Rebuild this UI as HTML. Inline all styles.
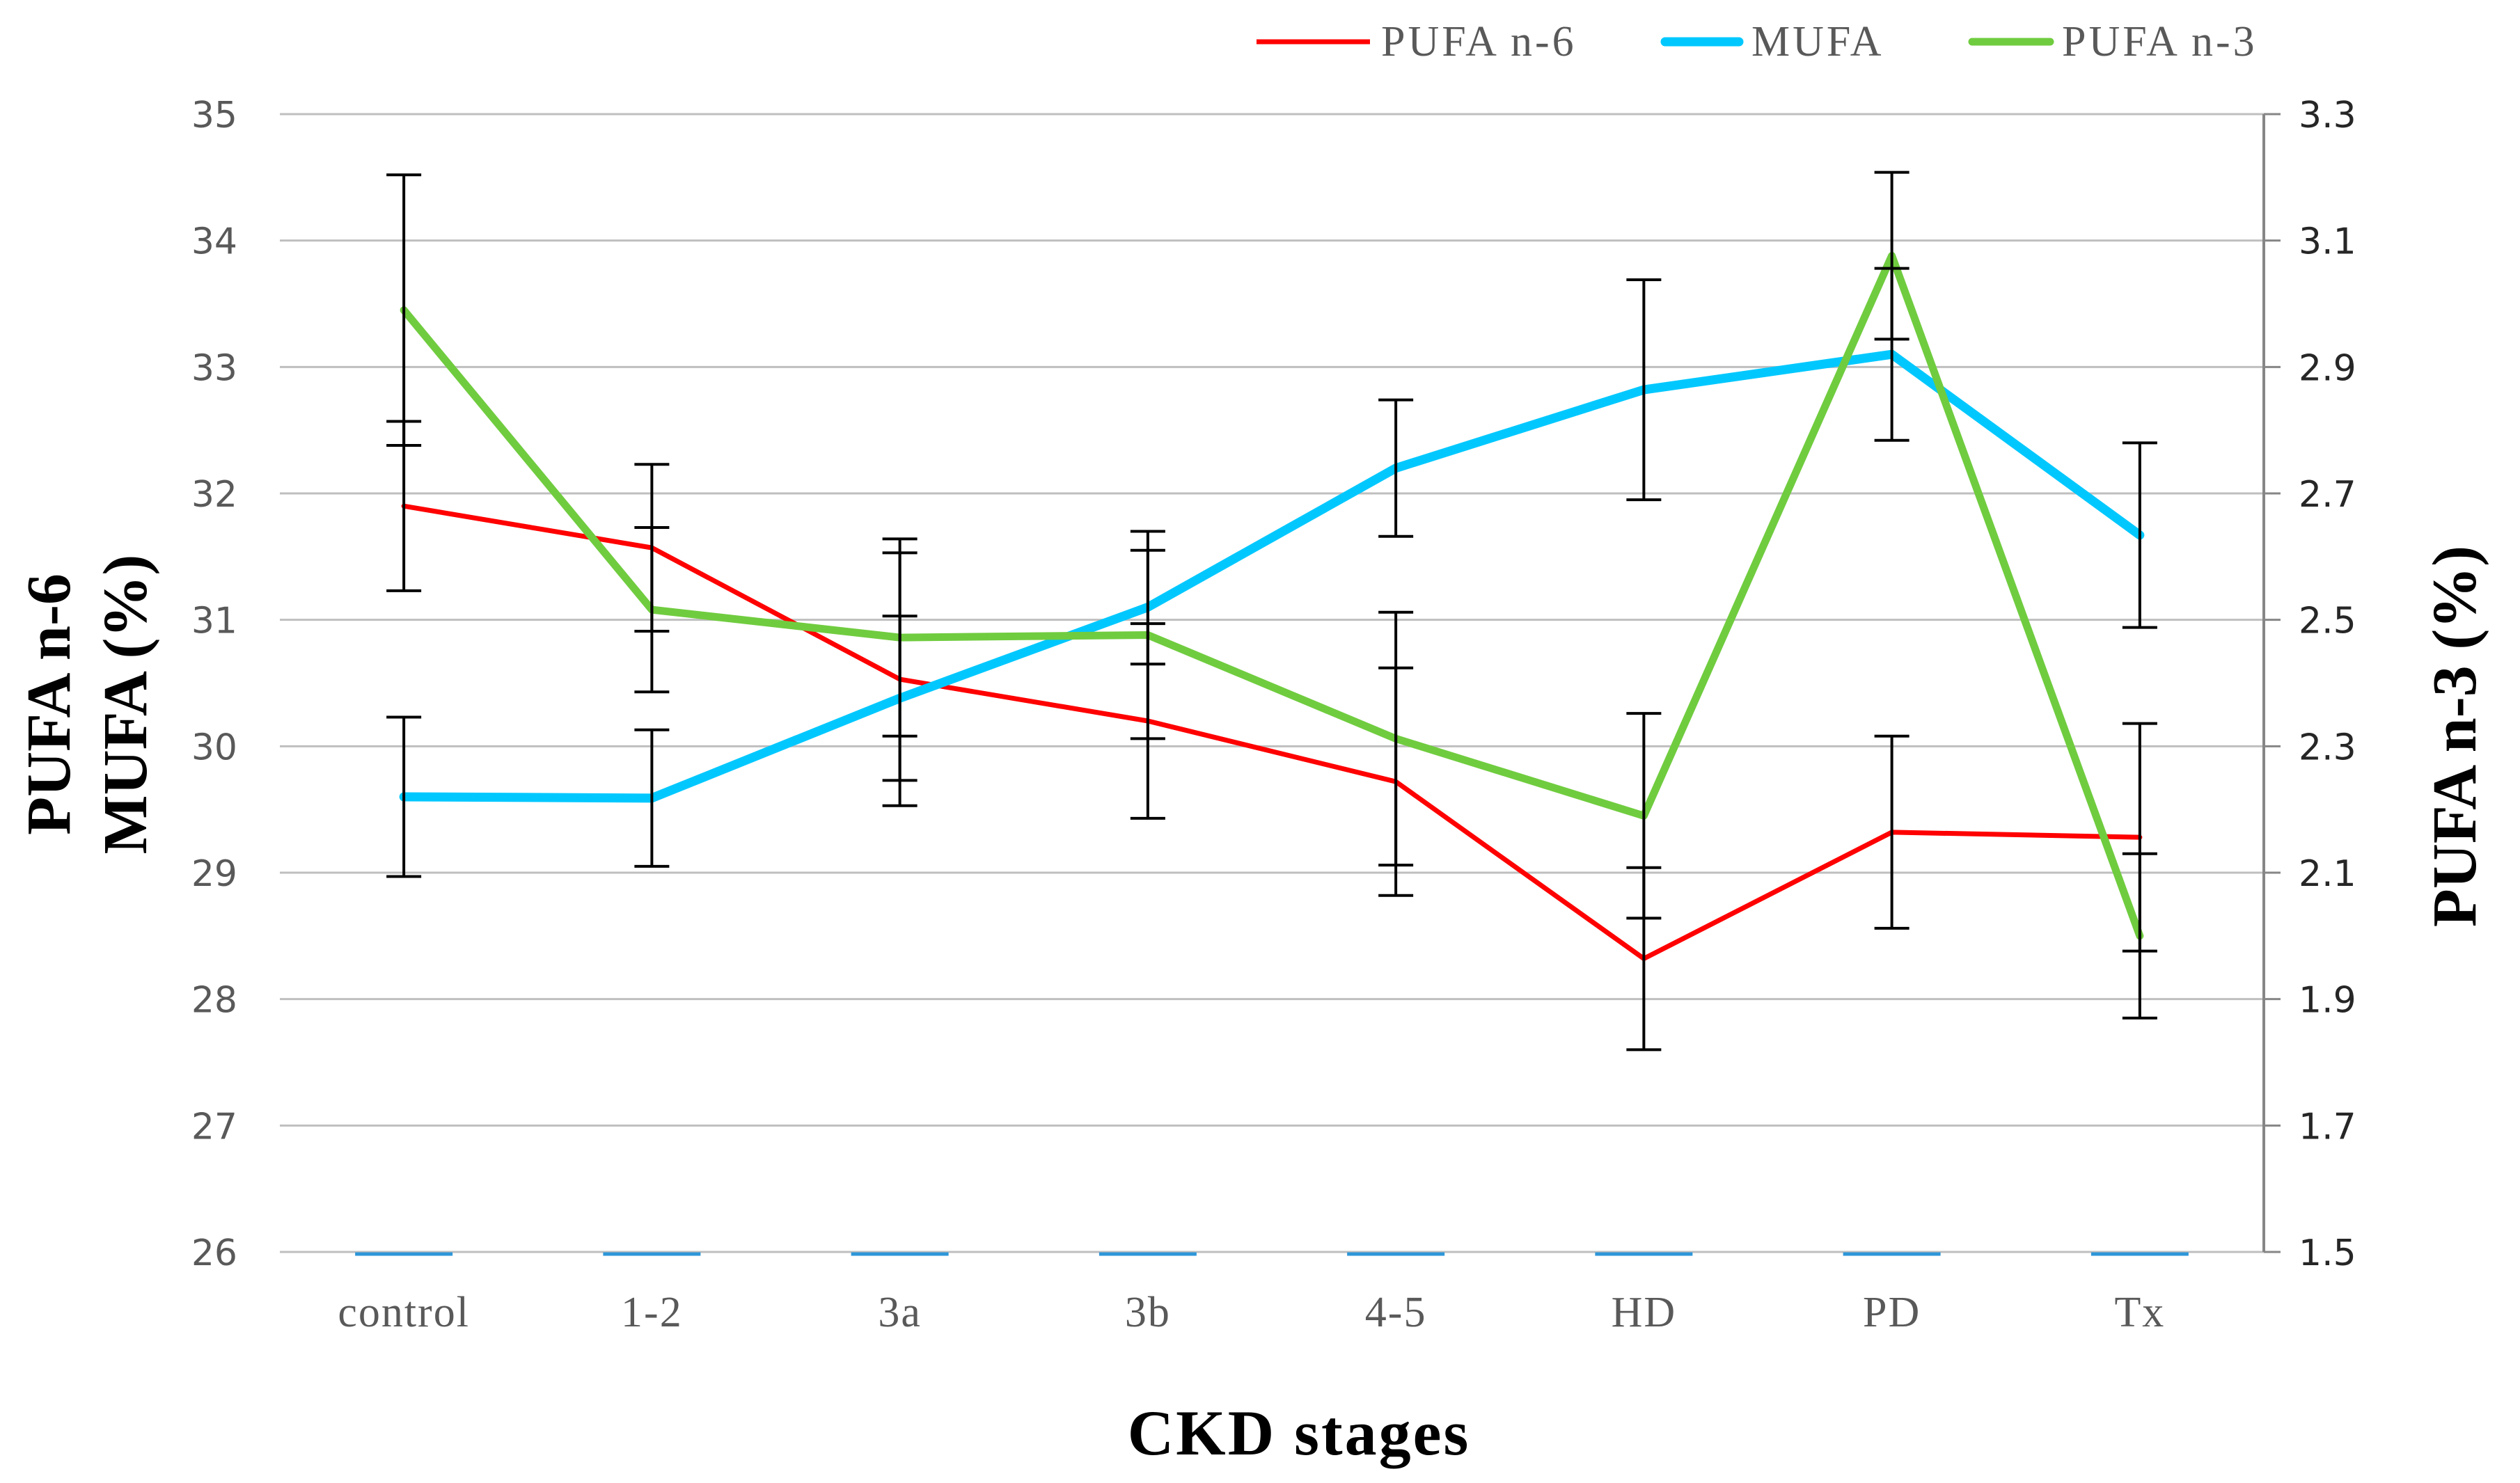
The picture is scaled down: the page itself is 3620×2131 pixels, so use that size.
<!DOCTYPE html>
<html><head><meta charset="utf-8"><style>
html,body{margin:0;padding:0;background:#fff;}
svg{display:block;}
</style></head><body>
<svg id="chart" width="3620" height="2131" xmlns="http://www.w3.org/2000/svg">
<g id="grid"></g>
<g id="ticks"></g>
<g id="series"></g>
<g id="errs"></g>
<text x="1866" y="2090" text-anchor="middle" font-family="Liberation Serif, serif" font-weight="bold" font-size="92" letter-spacing="3">CKD stages</text>
<text transform="translate(100,1012) rotate(-90)" text-anchor="middle" font-family="Liberation Serif, serif" font-weight="bold" font-size="90">PUFA n-6</text>
<text transform="translate(210,1012) rotate(-90)" text-anchor="middle" font-family="Liberation Serif, serif" font-weight="bold" font-size="90">MUFA (%)</text>
<text transform="translate(3556,1058) rotate(-90)" text-anchor="middle" font-family="Liberation Serif, serif" font-weight="bold" font-size="90">PUFA n-3 (%)</text>
<g font-family="Liberation Serif, serif" font-size="62" letter-spacing="4" fill="#595959">
  <g><line x1="1805" y1="60" x2="1968" y2="60" stroke="#ff0000" stroke-width="7"/><text x="1984" y="80">PUFA n-6</text></g>
  <g><line x1="2392" y1="60" x2="2498" y2="60" stroke="#00c8ff" stroke-width="13" stroke-linecap="round"/><text x="2516" y="80">MUFA</text></g>
  <g><line x1="2833" y1="60" x2="2945" y2="60" stroke="#70cc3f" stroke-width="11" stroke-linecap="round"/><text x="2962" y="80">PUFA n-3</text></g>
</g>
</svg>
<script>
const categories = ["control","1-2","3a","3b","4-5","HD","PD","Tx"];
const leftTicks = [26,27,28,29,30,31,32,33,34,35];
const rightTicks = ["1.5","1.7","1.9","2.1","2.3","2.5","2.7","2.9","3.1","3.3"];
const n6Values = [31.9,31.57,30.53,30.2,29.72,28.32,29.32,29.28];
const n6Err = [0.67,0.66,1.0,0.77,0.9,0.72,0.76,0.9];
const mufaValues = [29.6,29.59,30.38,31.1,32.2,32.82,33.1,31.67];
const mufaErr = [0.63,0.54,0.65,0.45,0.54,0.87,0.68,0.73];
const n3Values = [2.99,2.516,2.472,2.476,2.312,2.19,3.076,2.0];
const n3Err = [0.214,0.13,0.156,0.164,0.2,0.162,0.132,0.13];

const NS="http://www.w3.org/2000/svg";
const X0=402, X1=3252, YT=164, YB=1799;
const band=(X1-X0)/categories.length;
const xPos=i=>X0+band*(i+0.5);
const yL=v=>YB-(v-26)/9*(YB-YT);
const yR=v=>YB-(v-1.5)/1.8*(YB-YT);
function mk(tag,attrs,parent){const e=document.createElementNS(NS,tag);for(const k in attrs)e.setAttribute(k,attrs[k]);parent.appendChild(e);return e;}
const grid=document.getElementById('grid'), ticks=document.getElementById('ticks'), series=document.getElementById('series'), errs=document.getElementById('errs');

leftTicks.forEach((v,i)=>{
  const g=mk('line',{x1:X0,x2:X1,y1:yL(v),y2:yL(v),stroke:'#bfbfbf','stroke-width':3},grid);
  
  
  const t=mk('text',{x:341,y:yL(v)+19,'text-anchor':'end','font-family':'DejaVu Sans, sans-serif','font-size':52,fill:'#595959'},ticks);
  t.textContent=v;
  
  
});
rightTicks.forEach(s=>{
  const v=parseFloat(s);
  const tk=mk('line',{x1:X1,x2:X1+24,y1:yR(v),y2:yR(v),stroke:'#868686','stroke-width':3},ticks);
  
  
  const t=mk('text',{x:3302,y:yR(v)+19,'font-family':'DejaVu Sans, sans-serif','font-size':52,fill:'#262626'},ticks);
  t.textContent=s;
  
  
});
const ax=mk('line',{x1:X1,x2:X1,y1:YT,y2:YB,stroke:'#868686','stroke-width':4},ticks);



categories.forEach((c,i)=>{
  const d=mk('line',{x1:xPos(i)-70,x2:xPos(i)+70,y1:YB+3,y2:YB+3,stroke:'#2e96d8','stroke-width':5},ticks);
  
  
  const t=mk('text',{x:xPos(i),y:1906,'text-anchor':'middle','font-family':'Liberation Serif, serif','font-size':62,'letter-spacing':2,fill:'#595959'},ticks);
  t.textContent=c;
  
  
});

function drawSeries(vals,err,yf,color,w,name){
  vals.forEach((v,i)=>{
    const x=xPos(i);
    const e=mk('g',{stroke:'#000','stroke-width':4},errs);
    
    
    mk('line',{x1:x,x2:x,y1:yf(v-err[i]),y2:yf(v+err[i])},e);
    mk('line',{x1:x-25,x2:x+25,y1:yf(v+err[i]),y2:yf(v+err[i])},e);
    mk('line',{x1:x-25,x2:x+25,y1:yf(v-err[i]),y2:yf(v-err[i])},e);
  });
  const pts=vals.map((v,i)=>xPos(i)+','+yf(v)).join(' ');
  const p=mk('polyline',{points:pts,fill:'none',stroke:color,'stroke-width':w,'stroke-linejoin':'round','stroke-linecap':'round'},series);
  
  
}
drawSeries(n6Values,n6Err,yL,'#ff0000',7,'pufa-n6');
drawSeries(mufaValues,mufaErr,yL,'#00c8ff',13,'mufa');
drawSeries(n3Values,n3Err,yR,'#70cc3f',11,'pufa-n3');
</script>
</body></html>
